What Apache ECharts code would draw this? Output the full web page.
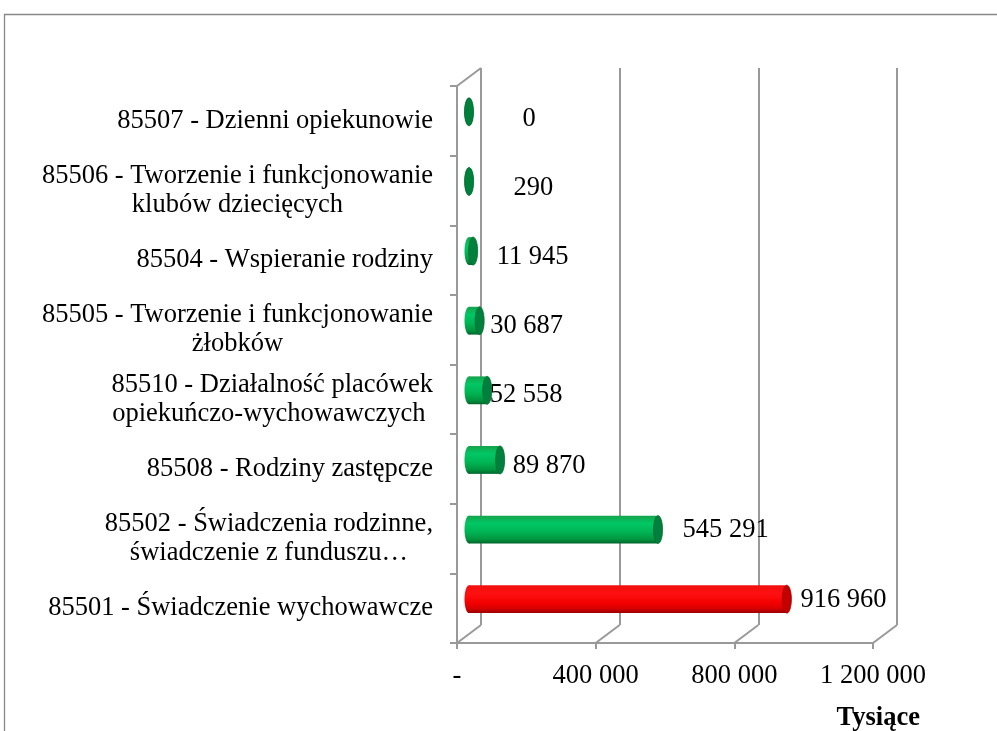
<!DOCTYPE html>
<html>
<head>
<meta charset="utf-8">
<script src="https://cdn.jsdelivr.net/npm/echarts@6/dist/echarts.min.js"></script>
<style>
html,body{margin:0;padding:0;background:#fff;}
#chart{width:997px;height:731px;}
</style>
</head>
<body>
<div id="chart"></div>
<script>
// ---- data (bottom to top) ----
const categories = [
  '85501 - Świadczenie wychowawcze',
  '85502 - Świadczenia rodzinne,\nświadczenie z funduszu…',
  '85508 - Rodziny zastępcze',
  '85510 - Działalność placówek\nopiekuńczo-wychowawczych ',
  '85505 - Tworzenie i funkcjonowanie\nżłobków',
  '85504 - Wspieranie rodziny',
  '85506 - Tworzenie i funkcjonowanie\nklubów dziecięcych',
  '85507 - Dzienni opiekunowie'
];
const values = [916960, 545291, 89870, 52558, 30687, 11945, 290, 0];
const highlighted = ['85501 - Świadczenie wychowawcze'];
const xTicks = [0, 400000, 800000, 1200000];
const axisTitle = 'Tysiące';

// ---- styling ----
const FONT = 'Liberation Serif';
const FS = 26.5;
const DX = 24, DY = -18;           // 3D depth offset
const RX = 4.5;                    // cylinder cap radius
const labelGap = [9, 20, 8, -2, 6, 19, 40, 49];
const labelDy = [0, -1, 5, 4, 4, 5, 6, 6];
const gridColor = '#999999';

function fmt(n) {
  return String(n).replace(/\B(?=(\d{3})+(?!\d))/g, ' ');
}

function ellipsePts(cx, cy, rx, ry) {
  const pts = [];
  for (let i = 0; i < 40; i++) {
    const a = i / 40 * Math.PI * 2;
    pts.push([cx + rx * Math.cos(a), cy + ry * Math.sin(a)]);
  }
  return pts;
}

const greenBody = new echarts.graphic.LinearGradient(0, 0, 0, 1, [
  {offset: 0, color: '#16a24c'}, {offset: 0.28, color: '#00c864'},
  {offset: 0.6, color: '#00b353'}, {offset: 0.85, color: '#00953f'},
  {offset: 1, color: '#00652c'}
]);
const redBody = new echarts.graphic.LinearGradient(0, 0, 0, 1, [
  {offset: 0, color: '#f01010'}, {offset: 0.3, color: '#ff1010'},
  {offset: 0.65, color: '#f20000'}, {offset: 0.85, color: '#d40000'},
  {offset: 1, color: '#960000'}
]);

const chart = echarts.init(document.getElementById('chart'), null, {renderer: 'canvas'});

const option = {
  animation: false,
  backgroundColor: '#fff',
  grid: [
    {left: 457, right: 124, top: 86, bottom: 88},
    {left: 457 + DX, right: 124 - DX, top: 86 + DY, bottom: 88 - DY}
  ],
  xAxis: [
    {
      type: 'value', gridIndex: 0, min: 0, max: 1200000, interval: 400000,
      axisLine: {show: true, lineStyle: {color: gridColor, width: 2}},
      axisTick: {show: true, length: 6, lineStyle: {color: gridColor, width: 2}},
      splitLine: {show: false},
      axisLabel: {
        margin: 20, color: '#000', fontFamily: FONT, fontSize: FS,
        formatter: v => v === 0 ? '-' : fmt(v)
      }
    },
    {
      type: 'value', gridIndex: 1, min: 0, max: 1200000, interval: 400000,
      axisLine: {show: false}, axisTick: {show: false}, axisLabel: {show: false},
      splitLine: {show: true, lineStyle: {color: gridColor, width: 2}}
    }
  ],
  yAxis: [
    {
      type: 'category', gridIndex: 0, data: categories,
      axisLine: {show: true, lineStyle: {color: gridColor, width: 2}},
      axisTick: {show: true, length: 7, lineStyle: {color: gridColor, width: 2}},
      axisLabel: {
        margin: 24, color: '#000', fontFamily: FONT, fontSize: FS,
        formatter: v => v.split('\n').map(l => '{c|' + l + '}').join('\n'),
        rich: {c: {align: 'center', fontFamily: FONT, fontSize: FS, lineHeight: 29, color: '#000'}}
      }
    },
    {
      type: 'category', gridIndex: 1, data: categories,
      axisLine: {show: false}, axisTick: {show: false}, axisLabel: {show: false}
    }
  ],
  graphic: [
    {
      type: 'rect', z: -10, silent: true,
      shape: {x: 4.5, y: 14.5, width: 1100, height: 1000},
      style: {fill: 'none', stroke: '#888888', lineWidth: 1.3}
    },
    {
      type: 'text', right: 997 - 920, top: 705,
      style: {text: axisTitle, font: 'bold ' + FS + 'px ' + FONT, fill: '#000'}
    }
  ],
  series: [
    {
      type: 'custom', xAxisIndex: 0, yAxisIndex: 0, z: 1,
      data: xTicks.map(v => [v]),
      renderItem: function (params, api) {
        const v = api.value(0);
        const cs = params.coordSys;
        const px = api.coord([v, 0])[0];
        const yb = cs.y + cs.height;
        const st = {stroke: gridColor, lineWidth: 2};
        const children = [{type: 'line', shape: {x1: px, y1: yb, x2: px + DX, y2: yb + DY}, style: st}];
        if (v === 0) {
          children.push({type: 'line', shape: {x1: cs.x, y1: cs.y, x2: cs.x + DX, y2: cs.y + DY}, style: st});
        }
        return {type: 'group', children: children};
      }
    },
    {
      type: 'custom', xAxisIndex: 0, yAxisIndex: 0, z: 5,
      data: values.map((v, i) => [v, i]),
      renderItem: function (params, api) {
        const idx = params.dataIndex;
        const v = api.value(0);
        const c = api.value(1);
        const p0 = api.coord([0, c]);
        const p1 = api.coord([v, c]);
        const h = api.size([0, 1])[1] * 0.4;
        const cy = p0[1] + DY / 2;
        const x0 = p0[0] + DX / 2;
        const x1 = p1[0] + DX / 2;
        const isRed = highlighted.indexOf(categories[idx]) >= 0;
        const body = isRed ? redBody : greenBody;
        const cap = isRed ? '#c20000' : '#00803c';
        const capEdge = isRed ? '#a00000' : '#006a30';
        return {
          type: 'group',
          children: [
            {type: 'polygon', shape: {points: ellipsePts(x0, cy, RX, h / 2)}, style: {fill: body}},
            {type: 'rect', shape: {x: x0, y: cy - h / 2, width: Math.max(0, x1 - x0), height: h}, style: {fill: body}},
            {type: 'polygon', shape: {points: ellipsePts(x1, cy, RX, h / 2)}, style: {fill: cap, stroke: capEdge, lineWidth: 0.8}},
            {
              type: 'text',
              style: {
                text: fmt(v), x: x1 + RX + labelGap[idx], y: cy + 1 + labelDy[idx],
                textVerticalAlign: 'middle', textAlign: 'left',
                font: FS + 'px ' + FONT, fill: '#000'
              }
            }
          ]
        };
      }
    }
  ]
};
chart.setOption(option);
</script>
</body>
</html>
